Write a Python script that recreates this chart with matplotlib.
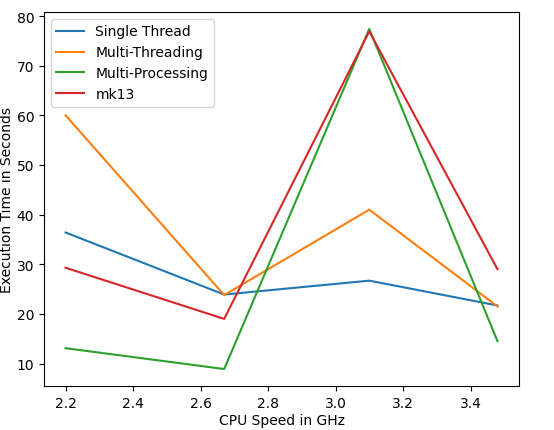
import matplotlib
matplotlib.use("Agg")
import matplotlib.pyplot as plt

cpu_speed = [2.2, 2.67, 3.1, 3.48]
single_thread = [36.4, 23.9, 26.7, 21.7]
multi_threading = [60.0, 23.8, 41.0, 21.5]
multi_processing = [13.1, 8.9, 77.4, 14.5]
mk13 = [29.3, 19.0, 76.9, 29.0]


def main():
    fig, ax = plt.subplots(figsize=(5.54, 4.31), dpi=100)
    fig.subplots_adjust(left=0.0794, right=0.937, top=0.970, bottom=0.102)

    ax.plot(cpu_speed, single_thread, label="Single Thread")
    ax.plot(cpu_speed, multi_threading, label="Multi-Threading")
    ax.plot(cpu_speed, multi_processing, label="Multi-Processing")
    ax.plot(cpu_speed, mk13, label="mk13")

    ax.set_xlabel("CPU Speed in GHz", labelpad=2)
    ax.set_ylabel("Execution Time in Seconds", labelpad=2)
    ax.legend(loc="upper left")

    fig.savefig("out.png")
    plt.close(fig)


if __name__ == "__main__":
    main()
